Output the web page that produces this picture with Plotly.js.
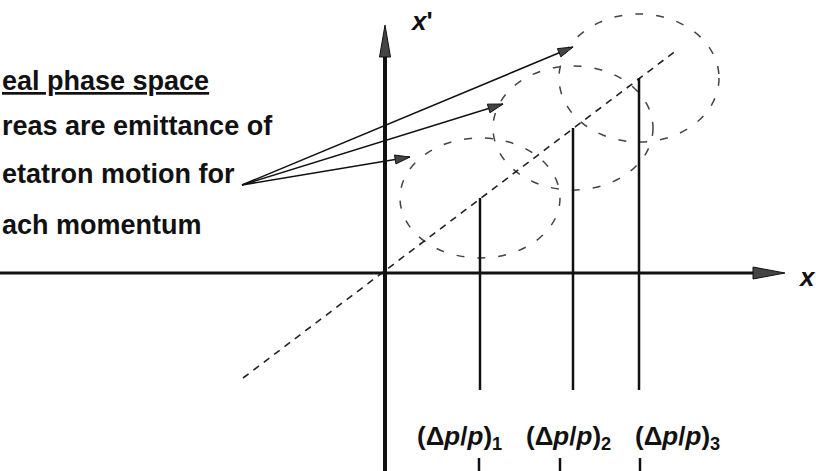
<!DOCTYPE html>
<html>
<head>
<meta charset="utf-8">
<script src="https://cdn.plot.ly/plotly-3.0.1.min.js"></script>
<style>html,body{margin:0;padding:0;background:#fff;}#chart{width:816px;height:471px;}</style>
</head>
<body>
<div id="chart"></div>
<script>
// ---- data (diagram units: origin at x/x' axis crossing, x' upward) ----
const momentumLabels = ['(Δ<i>p</i>/<i>p</i>)<sub>1</sub>', '(Δ<i>p</i>/<i>p</i>)<sub>2</sub>', '(Δ<i>p</i>/<i>p</i>)<sub>3</sub>'];
const orbitX = [95, 188, 254];          // closed-orbit x for each momentum
const orbitXp = [75, 145, 195];         // closed-orbit x' for each momentum
const stemBottom = [-117, -117, -117];  // lower end of each momentum line
const tickX = [94, 175, 255];           // short marks at bottom
const tickTop = [-185, -185, -185];
const labelX = [74, 183, 292];
const labelY = [-164, -164, -164];
const ellipseHalfX = [80, 80, 80];      // emittance ellipse half-widths
const ellipseHalfXp = [60, 62, 64];     // emittance ellipse half-heights
const dispersionX = [-142, 292];
const dispersionXp = [-105, 223];
const noteLines = ['<u>eal phase space</u>', 'reas are emittance of', 'etatron motion for', 'ach momentum'];
const noteY = [192, 147, 99, 48];
const pointerTail = [-143, 88];
const pointerTipX = [25, 118, 188];
const pointerTipY = [116, 169, 226];
const axisX = [-385, 400];   // horizontal axis extent (tip at end)
const axisXp = [-198, 248];  // vertical axis extent (tip at end)

// ---- styles ----
const INK = '#111';
const HEAD = '#444';
const FONT = 'Liberation Sans, Arial, sans-serif';

const traces = [];
const line = (x, y, w, dash, color) => ({type: 'scatter', mode: 'lines', x, y, hoverinfo: 'skip',
  line: {color: color || INK, width: w, dash: dash || 'solid'}, showlegend: false});
const tri = (tip, tail, len, half) => {
  const dx = tip[0] - tail[0], dy = tip[1] - tail[1];
  const L = Math.hypot(dx, dy), ux = dx / L, uy = dy / L;
  const bx = tip[0] - ux * len, by = tip[1] - uy * len;
  return {type: 'scatter', mode: 'lines', fill: 'toself', fillcolor: HEAD, hoverinfo: 'skip',
    x: [tip[0], bx - uy * half, bx + uy * half, tip[0]],
    y: [tip[1], by + ux * half, by - ux * half, tip[1]],
    line: {color: INK, width: 1}, showlegend: false};
};

// dispersion (dashed) line
traces.push(line(dispersionX, dispersionXp, 1.6, '7px,6px', '#222'));
// momentum stems
{
  const xs = [], ys = [];
  orbitX.forEach((v, i) => { xs.push(v, v, null); ys.push(orbitXp[i], stemBottom[i], null); });
  traces.push(line(xs, ys, 2.5));
}
// bottom marks
{
  const xs = [], ys = [];
  tickX.forEach((v, i) => { xs.push(v, v, null); ys.push(tickTop[i], axisXp[0], null); });
  traces.push(line(xs, ys, 2.5));
}
// axes
traces.push(line([axisX[0], axisX[1] - 30], [0, 0], 3));
traces.push(line([0, 0], [axisXp[0], axisXp[1] - 30], 4));
traces.push(tri([axisX[1], 0], [axisX[0], 0], 32, 6));
traces.push(tri([0, axisXp[1]], [0, axisXp[0]], 32, 5.5));
// pointer arrows
pointerTipX.forEach((tx, i) => {
  const tip = [tx, pointerTipY[i]];
  traces.push(line([pointerTail[0], tx], [pointerTail[1], pointerTipY[i]], 1.6));
  traces.push(tri(tip, pointerTail, 15, 4.5));
});

// emittance ellipses
const shapes = orbitX.map((cx, i) => ({
  type: 'circle', xref: 'x', yref: 'y',
  x0: cx - ellipseHalfX[i], x1: cx + ellipseHalfX[i],
  y0: orbitXp[i] - ellipseHalfXp[i], y1: orbitXp[i] + ellipseHalfXp[i],
  line: {color: '#444', width: 1.5, dash: '8px,13px'}, layer: 'below'
}));

const annotations = [];
noteLines.forEach((t, i) => annotations.push({
  x: -385, y: noteY[i], xref: 'x', yref: 'y', text: t, showarrow: false,
  xanchor: 'left', yanchor: 'middle', font: {family: FONT, size: 27, color: INK, weight: 'bold'}
}));
momentumLabels.forEach((t, i) => annotations.push({
  x: labelX[i], y: labelY[i], xref: 'x', yref: 'y', text: t, showarrow: false,
  xanchor: 'center', yanchor: 'middle', font: {family: FONT, size: 26, color: INK, weight: 'bold'}
}));
annotations.push({x: 36, y: 252, xref: 'x', yref: 'y', text: "<i>x</i>'", showarrow: false,
  font: {family: FONT, size: 26, color: INK, weight: 'bold'}});
annotations.push({x: 422, y: -4, xref: 'x', yref: 'y', text: '<i>x</i>', showarrow: false,
  font: {family: FONT, size: 26, color: INK, weight: 'bold'}});

Plotly.newPlot('chart', traces, {
  width: 816, height: 471,
  margin: {l: 0, r: 0, t: 0, b: 0},
  paper_bgcolor: '#fff', plot_bgcolor: '#fff',
  xaxis: {range: [-385, 431], visible: false, fixedrange: true},
  yaxis: {range: [-198, 273], visible: false, fixedrange: true},
  shapes, annotations, showlegend: false
}, {staticPlot: true});
</script>
</body>
</html>
